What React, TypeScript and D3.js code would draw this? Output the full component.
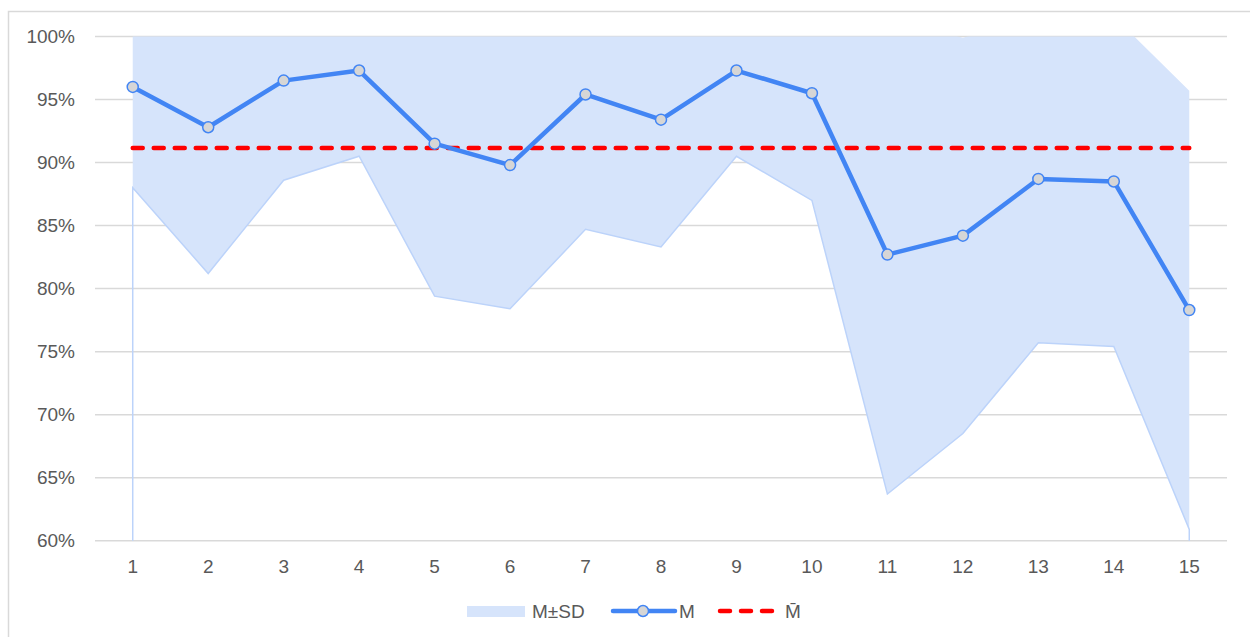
import React from "react";
import * as d3 from "d3";

const categories = [1, 2, 3, 4, 5, 6, 7, 8, 9, 10, 11, 12, 13, 14, 15];
const meanValues = [96.0, 92.8, 96.5, 97.3, 91.5, 89.8, 95.4, 93.4, 97.3, 95.5, 82.7, 84.2, 88.7, 88.5, 78.3];
const sdValues = [8.0, 11.6, 7.9, 6.8, 12.1, 11.4, 10.7, 10.1, 6.8, 8.5, 19.0, 15.7, 13.0, 13.1, 17.4];
const grandMean = 91.15;
const yTicks = [60, 65, 70, 75, 80, 85, 90, 95, 100];
const legendLabels = ["M±SD", "M", "M̄"];

const W = 1250;
const H = 637;
const L = 95;
const R = 1227;
const TOP = 36.5;
const BOT = 540.7;

export default function App() {
  const x = d3.scalePoint<number>().domain(categories).range([L, R]).padding(0.5);
  const y = d3.scaleLinear().domain([60, 100]).range([BOT, TOP]);

  const rows = categories.map((c, i) => ({
    c,
    m: meanValues[i],
    lo: meanValues[i] - sdValues[i],
    hi: meanValues[i] + sdValues[i],
  }));

  const band = d3
    .area<(typeof rows)[number]>()
    .x((d) => x(d.c)!)
    .y0((d) => y(d.lo))
    .y1((d) => y(d.hi))(rows)!;

  const lowerEdge = d3
    .line<[number, number]>()
    .x((d) => d[0])
    .y((d) => d[1])([
    [x(categories[0])!, y(60)],
    ...rows.map((d) => [x(d.c)!, y(d.lo)] as [number, number]),
    [x(categories[categories.length - 1])!, y(60)],
  ])!;

  const meanLine = d3
    .line<(typeof rows)[number]>()
    .x((d) => x(d.c)!)
    .y((d) => y(d.m))(rows)!;

  const font = "'Liberation Sans', Arial, sans-serif";
  const textColor = "#595959";
  const blue = "#4285f4";
  const bandFill = "#d6e4fb";

  return (
    <svg
      width={W}
      height={H}
      style={{ position: "absolute", left: 0, top: 0, background: "#fff" }}
      fontFamily={font}
    >
      <defs>
        <clipPath id="plotClip">
          <rect x={0} y={TOP} width={W} height={BOT - TOP + 2} />
        </clipPath>
      </defs>
      <rect x={8.5} y={11.5} width={1400} height={800} fill="none" stroke="#d9d9d9" strokeWidth={1.5} />

      {yTicks.map((t) => (
        <g key={t}>
          <line x1={L} x2={R} y1={y(t)} y2={y(t)} stroke="#d9d9d9" strokeWidth={1.5} />
          <text x={75} y={y(t)} dy="0.35em" textAnchor="end" fontSize={19} fill={textColor}>
            {t}%
          </text>
        </g>
      ))}

      <g clipPath="url(#plotClip)">
        <path d={band} fill={bandFill} />
        <path d={lowerEdge} fill="none" stroke="#bcd3fa" strokeWidth={1.5} />
      </g>

      <line
        x1={x(categories[0])!}
        x2={x(categories[categories.length - 1])!}
        y1={y(grandMean)}
        y2={y(grandMean)}
        stroke="#ff0000"
        strokeWidth={4.5}
        strokeDasharray="10 11"
        strokeLinecap="round"
      />

      <path d={meanLine} fill="none" stroke={blue} strokeWidth={4.5} strokeLinejoin="round" />
      {rows.map((d) => (
        <circle key={d.c} cx={x(d.c)!} cy={y(d.m)} r={5.5} fill="#d6d6d6" stroke={blue} strokeWidth={1.5} />
      ))}

      {categories.map((c) => (
        <text key={c} x={x(c)!} y={566} dy="0.35em" textAnchor="middle" fontSize={19} fill={textColor}>
          {c}
        </text>
      ))}

      <g>
        <rect x={467} y={606} width={58} height={11} fill={bandFill} />
        <text x={532} y={611} dy="0.35em" fontSize={19} fill={textColor}>
          {legendLabels[0]}
        </text>
        <line x1={613} x2={675} y1={611} y2={611} stroke={blue} strokeWidth={4.5} strokeLinecap="round" />
        <circle cx={643} cy={611} r={5.5} fill="#d6d6d6" stroke={blue} strokeWidth={1.5} />
        <text x={679} y={611} dy="0.35em" fontSize={19} fill={textColor}>
          {legendLabels[1]}
        </text>
        <line
          x1={720}
          x2={775}
          y1={611}
          y2={611}
          stroke="#ff0000"
          strokeWidth={4.5}
          strokeDasharray="10 11"
          strokeLinecap="round"
        />
        <text x={785} y={611} dy="0.35em" fontSize={19} fill={textColor}>
          {legendLabels[2]}
        </text>
      </g>
    </svg>
  );
}
